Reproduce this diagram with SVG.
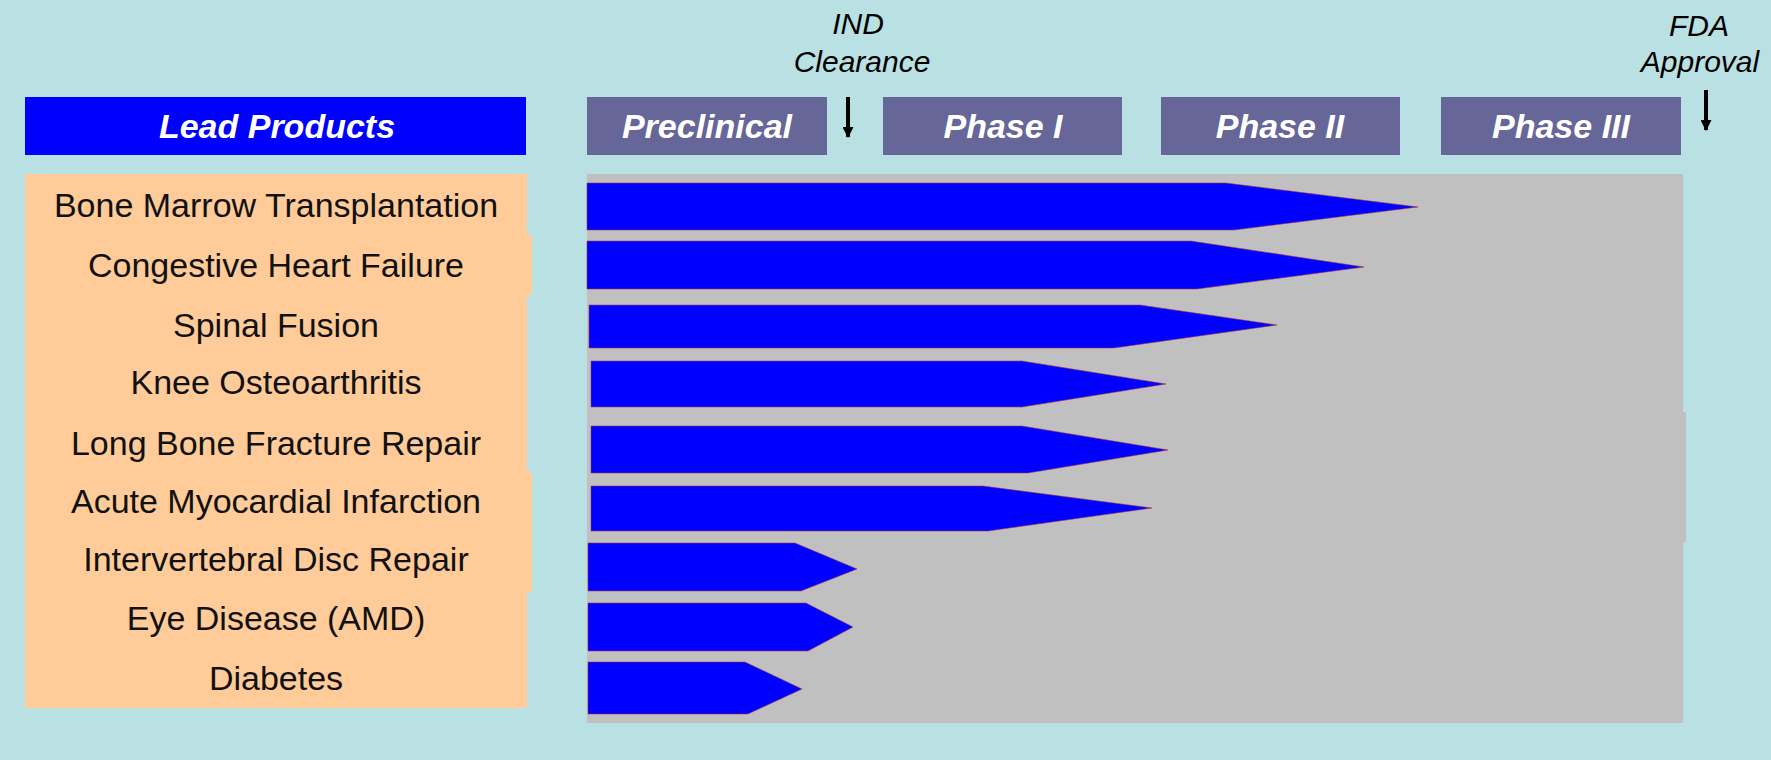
<svg xmlns="http://www.w3.org/2000/svg" width="1771" height="760" viewBox="0 0 1771 760">
<defs>
<style>
.hdr{font-family:"Liberation Sans",Arial,sans-serif;font-size:34px;font-weight:bold;font-style:italic;fill:#fff;text-anchor:middle}
.ms{font-family:"Liberation Sans",Arial,sans-serif;font-size:30px;font-style:italic;fill:#000;text-anchor:middle}
.lbl{font-family:"Liberation Sans",Arial,sans-serif;font-size:34px;fill:#111;text-anchor:middle}
.phase{fill:#666699}
.bar{fill:#0000FF;stroke:#B03040;stroke-width:1;stroke-opacity:0.55}
.arr{stroke:#000;stroke-width:4;fill:none}
</style>
<marker id="ah" viewBox="0 0 10 10" refX="9" refY="5" markerWidth="11" markerHeight="11" markerUnits="userSpaceOnUse" orient="auto">
<path d="M0,0 L10,5 L0,10 Z" fill="#000"/>
</marker>
</defs>
<rect x="0" y="0" width="1771" height="760" fill="#B9E0E3"/>

<g id="lead-products">
<rect x="25" y="97" width="501" height="58" fill="#0000FF"/>
<text class="hdr" x="277" y="138">Lead Products</text>
</g>

<g id="preclinical">
<rect class="phase" x="587" y="97" width="240" height="58"/>
<text class="hdr" x="707" y="138">Preclinical</text>
</g>
<g id="phase-1">
<rect class="phase" x="883" y="97" width="239" height="58"/>
<text class="hdr" x="1003" y="138">Phase I</text>
</g>
<g id="phase-2">
<rect class="phase" x="1161" y="97" width="239" height="58"/>
<text class="hdr" x="1280" y="138">Phase II</text>
</g>
<g id="phase-3">
<rect class="phase" x="1441" y="97" width="240" height="58"/>
<text class="hdr" x="1561" y="138">Phase III</text>
</g>

<g id="ind-clearance">
<text class="ms" x="858" y="34">IND</text>
<text class="ms" x="862" y="72">Clearance</text>
</g>
<g id="fda-approval">
<text class="ms" x="1699" y="36">FDA</text>
<text class="ms" x="1700" y="72">Approval</text>
</g>

<g id="connectors">
<line class="arr" x1="848" y1="97" x2="848" y2="137" marker-end="url(#ah)"/>
<line class="arr" x1="1706" y1="90" x2="1706" y2="130" marker-end="url(#ah)"/>
</g>

<g id="products-panel">
<rect x="25" y="174" width="502" height="534" fill="#FFCC99"/>
<rect x="520" y="235" width="12" height="60" fill="#FFCC99"/>
<rect x="520" y="472" width="12" height="120" fill="#FFCC99"/>
</g>

<g id="timeline-panel">
<rect x="587" y="174" width="1096" height="549" fill="#C0C0C0"/>
<rect x="1680" y="412" width="6" height="130" fill="#C0C0C0"/>
</g>

<g id="bone-marrow">
<text class="lbl" x="276" y="217">Bone Marrow Transplantation</text>
<polygon class="bar" points="587,183 1226,183 1418,207 1234,230 587,230"/>
</g>
<g id="chf">
<text class="lbl" x="276" y="277">Congestive Heart Failure</text>
<polygon class="bar" points="587,241 1191,241 1364,267 1197,289 587,289"/>
</g>
<g id="spinal-fusion">
<text class="lbl" x="276" y="337">Spinal Fusion</text>
<polygon class="bar" points="589,305 1140,305 1277,325 1114,348 589,348"/>
</g>
<g id="knee-oa">
<text class="lbl" x="276" y="394">Knee Osteoarthritis</text>
<polygon class="bar" points="591,361 1022,361 1166,384 1022,407 591,407"/>
</g>
<g id="long-bone">
<text class="lbl" x="276" y="455">Long Bone Fracture Repair</text>
<polygon class="bar" points="591,426 1022,426 1168,450 1028,473 591,473"/>
</g>
<g id="ami">
<text class="lbl" x="276" y="513">Acute Myocardial Infarction</text>
<polygon class="bar" points="591,486 983,486 1152,508 988,531 591,531"/>
</g>
<g id="disc-repair">
<text class="lbl" x="276" y="571">Intervertebral Disc Repair</text>
<polygon class="bar" points="588,543 795,543 857,569 801,591 588,591"/>
</g>
<g id="eye-disease">
<text class="lbl" x="276" y="630">Eye Disease (AMD)</text>
<polygon class="bar" points="588,603 806,603 853,627 808,651 588,651"/>
</g>
<g id="diabetes">
<text class="lbl" x="276" y="690">Diabetes</text>
<polygon class="bar" points="588,662 745,662 802,689 748,714 588,714"/>
</g>
</svg>
